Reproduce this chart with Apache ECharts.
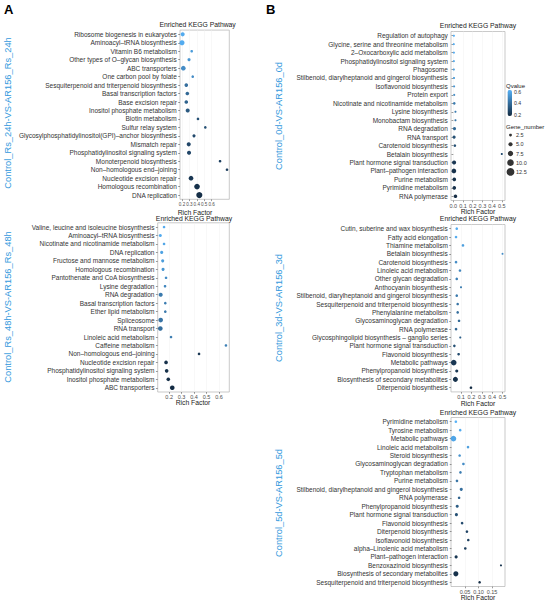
<!DOCTYPE html>
<html>
<head>
<meta charset="utf-8">
<title>Enriched KEGG Pathway</title>
<script src="https://cdn.jsdelivr.net/npm/echarts@6/dist/echarts.min.js"></script>
<style>body{margin:0;background:#fff}#main{width:550px;height:604px}</style>
</head>
<body>
<div id="main"></div>
<script>
// A top: Control_Rs_24h-VS-AR156_Rs_24h
var rs24Terms = ['Ribosome biogenesis in eukaryotes', 'Aminoacyl–tRNA biosynthesis', 'Vitamin B6 metabolism',
    'Other types of O–glycan biosynthesis', 'ABC transporters', 'One carbon pool by folate',
    'Sesquiterpenoid and triterpenoid biosynthesis', 'Basal transcription factors', 'Base excision repair',
    'Inositol phosphate metabolism', 'Biotin metabolism', 'Sulfur relay system',
    'Glycosylphosphatidylinositol(GPI)–anchor biosynthesis', 'Mismatch repair', 'Phosphatidylinositol signaling system',
    'Monoterpenoid biosynthesis', 'Non–homologous end–joining', 'Nucleotide excision repair',
    'Homologous recombination', 'DNA replication'];
var rs24Rich = [0.209, 0.200, 0.331, 0.295, 0.218, 0.345, 0.258, 0.272, 0.258, 0.277,
    0.416, 0.515, 0.362, 0.291, 0.295, 0.714, 0.808, 0.322, 0.403, 0.434];
var rs24Qvalue = [0.60, 0.60, 0.55, 0.53, 0.50, 0.50, 0.40, 0.38, 0.36, 0.33,
    0.30, 0.30, 0.28, 0.27, 0.27, 0.25, 0.24, 0.22, 0.20, 0.19];
var rs24Genes = [5, 7, 2, 3, 6, 2, 4, 4, 4, 5, 2, 2, 3, 5, 5, 2, 2, 6, 8, 9];
var rs24Ticks = [0.2, 0.3, 0.4, 0.5, 0.6];

// A bottom: Control_Rs_48h-VS-AR156_Rs_48h
var rs48Terms = ['Valine, leucine and isoleucine biosynthesis', 'Aminoacyl–tRNA biosynthesis',
    'Nicotinate and nicotinamide metabolism', 'DNA replication', 'Fructose and mannose metabolism',
    'Homologous recombination', 'Pantothenate and CoA biosynthesis', 'Lysine degradation', 'RNA degradation',
    'Basal transcription factors', 'Ether lipid metabolism', 'Spliceosome', 'RNA transport',
    'Linoleic acid metabolism', 'Caffeine metabolism', 'Non–homologous end–joining', 'Nucleotide excision repair',
    'Phosphatidylinositol signaling system', 'Inositol phosphate metabolism', 'ABC transporters'];
var rs48Rich = [0.159, 0.129, 0.159, 0.140, 0.148, 0.151, 0.175, 0.167, 0.132, 0.169,
    0.169, 0.132, 0.129, 0.215, 0.656, 0.440, 0.175, 0.180, 0.193, 0.225];
var rs48Qvalue = [0.60, 0.60, 0.58, 0.57, 0.55, 0.53, 0.50, 0.48, 0.44, 0.45,
    0.44, 0.42, 0.40, 0.45, 0.46, 0.22, 0.20, 0.20, 0.19, 0.18];
var rs48Genes = [2, 3, 2, 3, 3, 3, 2, 2, 5, 2, 2, 6, 6, 2, 2, 2, 4, 4, 4, 6];
var rs48Ticks = [0.1, 0.2, 0.3, 0.4, 0.5, 0.6];

// B top: Control_0d-VS-AR156_0d
var d0Terms = ['Regulation of autophagy', 'Glycine, serine and threonine metabolism', '2–Oxocarboxylic acid metabolism',
    'Phosphatidylinositol signaling system', 'Phagosome', 'Stilbenoid, diarylheptanoid and gingerol biosynthesis',
    'Isoflavonoid biosynthesis', 'Protein export', 'Nicotinate and nicotinamide metabolism', 'Lysine biosynthesis',
    'Monobactam biosynthesis', 'RNA degradation', 'RNA transport', 'Carotenoid biosynthesis', 'Betalain biosynthesis',
    'Plant hormone signal transduction', 'Plant–pathogen interaction', 'Purine metabolism', 'Pyrimidine metabolism',
    'RNA polymerase'];
var d0Rich = [0.006, 0.005, 0.006, 0.006, 0.005, 0.007, 0.008, 0.009, 0.010, 0.022,
    0.022, 0.012, 0.008, 0.016, 0.500, 0.008, 0.006, 0.010, 0.010, 0.022];
var d0Qvalue = [0.62, 0.60, 0.60, 0.58, 0.56, 0.55, 0.53, 0.50, 0.45, 0.45,
    0.43, 0.38, 0.30, 0.30, 0.28, 0.22, 0.20, 0.20, 0.20, 0.18];
var d0Genes = [1, 1, 1, 1, 1, 1, 1, 1, 2, 1, 1, 3, 3, 2, 1, 5, 6, 4, 4, 4];
var d0Ticks = [0, 0.1, 0.2, 0.3, 0.4, 0.5];

// B middle: Control_3d-VS-AR156_3d
var d3Terms = ['Cutin, suberine and wax biosynthesis', 'Fatty acid elongation', 'Thiamine metabolism',
    'Betalain biosynthesis', 'Carotenoid biosynthesis', 'Linoleic acid metabolism', 'Other glycan degradation',
    'Anthocyanin biosynthesis', 'Stilbenoid, diarylheptanoid and gingerol biosynthesis',
    'Sesquiterpenoid and triterpenoid biosynthesis', 'Phenylalanine metabolism', 'Glycosaminoglycan degradation',
    'RNA polymerase', 'Glycosphingolipid biosynthesis – ganglio series', 'Plant hormone signal transduction',
    'Flavonoid biosynthesis', 'Metabolic pathways', 'Phenylpropanoid biosynthesis',
    'Biosynthesis of secondary metabolites', 'Diterpenoid biosynthesis'];
var d3Rich = [0.059, 0.052, 0.119, 0.500, 0.052, 0.090, 0.059, 0.100, 0.059, 0.068,
    0.068, 0.081, 0.052, 0.093, 0.036, 0.077, 0.030, 0.059, 0.046, 0.196];
var d3Qvalue = [0.60, 0.60, 0.56, 0.50, 0.50, 0.48, 0.46, 0.45, 0.44, 0.42,
    0.40, 0.38, 0.37, 0.35, 0.30, 0.28, 0.22, 0.22, 0.20, 0.18];
var d3Genes = [2, 2, 2, 1, 2, 2, 2, 1, 2, 2, 2, 2, 2, 1, 2, 2, 8, 3, 7, 2];
var d3Ticks = [0.1, 0.2, 0.3, 0.4, 0.5];

// B bottom: Control_5d-VS-AR156_5d
var d5Terms = ['Pyrimidine metabolism', 'Tyrosine metabolism', 'Metabolic pathways', 'Linoleic acid metabolism',
    'Steroid biosynthesis', 'Glycosaminoglycan degradation', 'Tryptophan metabolism', 'Purine metabolism',
    'Stilbenoid, diarylheptanoid and gingerol biosynthesis', 'RNA polymerase', 'Phenylpropanoid biosynthesis',
    'Plant hormone signal transduction', 'Flavonoid biosynthesis', 'Diterpenoid biosynthesis',
    'Isoflavonoid biosynthesis', 'alpha–Linolenic acid metabolism', 'Plant–pathogen interaction',
    'Benzoxazinoid biosynthesis', 'Biosynthesis of secondary metabolites',
    'Sesquiterpenoid and triterpenoid biosynthesis'];
var d5Rich = [0.016, 0.032, 0.007, 0.061, 0.030, 0.044, 0.033, 0.020, 0.036, 0.028,
    0.021, 0.018, 0.039, 0.057, 0.062, 0.051, 0.017, 0.183, 0.016, 0.104];
var d5Qvalue = [0.62, 0.60, 0.58, 0.56, 0.52, 0.50, 0.45, 0.42, 0.40, 0.36,
    0.34, 0.30, 0.28, 0.26, 0.25, 0.24, 0.22, 0.21, 0.20, 0.18];
var d5Genes = [2, 2, 8, 2, 2, 2, 2, 2, 3, 2, 3, 3, 2, 2, 2, 2, 3, 1, 7, 2];
var d5Ticks = [0.05, 0.10, 0.15];

// legends
var qvalueTicks = [0.6, 0.4, 0.2];
var geneLegend = [2.5, 5, 7.5, 10, 12.5];

var FONT = '"Liberation Sans", Arial, sans-serif';
var LOW = '#132B43', HIGH = '#56B1F7';

function dotSize(g) { return 1.6 + 0.5 * g; }

var panels = [
    { name: 'Control_Rs_24h-VS-AR156_Rs_24h', terms: rs24Terms, rich: rs24Rich, q: rs24Qvalue, genes: rs24Genes,
      ticks: rs24Ticks, dec: 1, min: 0.173, max: 0.839, tickFont: 4.6,
      box: [180, 30.1, 49.3, 169.2], titleX: 197.6, titleY: 24.5, rfX: 195, rfY: 212, sideX: 7.5, sideY: 113 },
    { name: 'Control_Rs_48h-VS-AR156_Rs_48h', terms: rs48Terms, rich: rs48Rich, q: rs48Qvalue, genes: rs48Genes,
      ticks: rs48Ticks, dec: 1, min: 0.108, max: 0.683, tickFont: 5.5,
      box: [157.7, 222.8, 71.6, 169.2], titleX: 194, titleY: 218, rfX: 193, rfY: 402.7, sideX: 7.5, sideY: 307 },
    { name: 'Control_0d-VS-AR156_0d', terms: d0Terms, rich: d0Rich, q: d0Qvalue, genes: d0Genes,
      ticks: d0Ticks, dec: 1, min: -0.024, max: 0.533, tickFont: 5.5,
      box: [451, 31.5, 54, 169], titleX: 478, titleY: 25, rfX: 478, rfY: 211, sideX: 278.5, sideY: 116 },
    { name: 'Control_3d-VS-AR156_3d', terms: d3Terms, rich: d3Rich, q: d3Qvalue, genes: d3Genes,
      ticks: d3Ticks, dec: 1, min: 0.0036, max: 0.524, tickFont: 5.5,
      box: [451, 224.5, 54, 167.4], titleX: 478, titleY: 218.3, rfX: 478, rfY: 403.3, sideX: 278.5, sideY: 308 },
    { name: 'Control_5d-VS-AR156_5d', terms: d5Terms, rich: d5Rich, q: d5Qvalue, genes: d5Genes,
      ticks: d5Ticks, dec: 2, min: -0.002, max: 0.198, tickFont: 5.5,
      box: [451, 417.5, 54, 169], titleX: 478, titleY: 412.3, rfX: 478, rfY: 597.7, sideX: 278.5, sideY: 503 }
];

var grids = [], xAxes = [], yAxes = [], series = [], texts = [];

panels.forEach(function (p, i) {
    grids.push({
        left: p.box[0], top: p.box[1], width: p.box[2], height: p.box[3],
        show: true, borderColor: '#b3b3b3', borderWidth: 0.7, backgroundColor: '#fff',
        outerBoundsMode: 'none'
    });
    xAxes.push({
        gridIndex: i, type: 'value', min: p.min, max: p.max,
        axisLine: { show: false },
        axisTick: { show: true, length: 1.8, customValues: p.ticks, lineStyle: { color: '#555', width: 0.6 } },
        axisLabel: {
            customValues: p.ticks, fontSize: p.tickFont, color: '#4d4d4d', fontFamily: FONT, margin: 2.2,
            formatter: (function (dec) { return function (v) { return v.toFixed(dec); }; })(p.dec)
        },
        splitLine: { show: true, lineStyle: { color: '#f0f0f0', width: 0.5 } }
    });
    yAxes.push({
        gridIndex: i, type: 'category', data: p.terms, inverse: true,
        axisLine: { show: false },
        axisTick: { show: true, length: 1.8, alignWithLabel: true, interval: 0, lineStyle: { color: '#555', width: 0.6 } },
        axisLabel: { fontSize: 6.5, color: '#333', fontFamily: FONT, margin: 3.2, interval: 0 },
        splitLine: { show: false }
    });
    series.push({
        type: 'scatter', xAxisIndex: i, yAxisIndex: i,
        data: p.terms.map(function (t, j) { return [p.rich[j], j, p.q[j], p.genes[j]]; }),
        encode: { x: 0, y: 1 },
        symbolSize: function (v) { return dotSize(v[3]); },
        itemStyle: { opacity: 1 },
        silent: true
    });
    texts.push(
        { type: 'text', x: p.titleX, y: p.titleY, style: { text: 'Enriched KEGG Pathway', font: '6.8px ' + FONT, fill: '#1a1a1a', textAlign: 'center', textVerticalAlign: 'middle' } },
        { type: 'text', x: p.rfX, y: p.rfY, style: { text: 'Rich Factor', font: '6.8px ' + FONT, fill: '#1a1a1a', textAlign: 'center', textVerticalAlign: 'middle' } },
        { type: 'text', x: p.sideX, y: p.sideY, rotation: Math.PI / 2, style: { text: p.name, font: '9.3px ' + FONT, fill: '#3399dd', textAlign: 'center', textVerticalAlign: 'middle' } }
    );
});

// Gene_number size legend drawn as a tiny scatter grid
grids.push({ left: 506.5, top: 130.5, width: 8, height: 46, show: false, outerBoundsMode: 'none' });
xAxes.push({ gridIndex: 5, type: 'value', min: -1, max: 1, show: false });
yAxes.push({
    gridIndex: 5, type: 'category', inverse: true, position: 'right',
    data: geneLegend.map(function (g) { return g.toFixed(1); }),
    axisLine: { show: false }, axisTick: { show: false },
    axisLabel: { fontSize: 5.5, color: '#333', fontFamily: FONT, margin: 1.5 }
});
series.push({
    type: 'scatter', xAxisIndex: 5, yAxisIndex: 5, silent: true,
    data: geneLegend.map(function (g, j) { return [0, j, g]; }),
    symbolSize: function (v) { return dotSize(v[2]); },
    itemStyle: { color: '#000' }
});

texts.push(
    { type: 'text', x: 4, y: 9, style: { text: 'A', font: 'bold 13px ' + FONT, fill: '#000', textVerticalAlign: 'middle' } },
    { type: 'text', x: 266, y: 9, style: { text: 'B', font: 'bold 13px ' + FONT, fill: '#000', textVerticalAlign: 'middle' } },
    { type: 'text', x: 506, y: 86.3, style: { text: 'Qvalue', font: '6px ' + FONT, fill: '#1a1a1a', textVerticalAlign: 'middle' } },
    { type: 'text', x: 506, y: 126.7, style: { text: 'Gene_number', font: '6px ' + FONT, fill: '#1a1a1a', textVerticalAlign: 'middle' } }
);
// colourbar labels placed on the same 0.18-0.62 scale as the bar
var qMin = 0.18, qMax = 0.62, barTop = 90, barH = 26;
qvalueTicks.forEach(function (q) {
    texts.push({ type: 'text', x: 514, y: barTop + (qMax - q) / (qMax - qMin) * barH + 0.4,
        style: { text: q.toFixed(1), font: '5.2px ' + FONT, fill: '#333', textVerticalAlign: 'middle' } });
});

var myChart = echarts.init(document.getElementById('main'), null, { renderer: 'svg' });
myChart.setOption({
    animation: false,
    backgroundColor: '#fff',
    grid: grids,
    xAxis: xAxes,
    yAxis: yAxes,
    visualMap: {
        type: 'continuous', seriesIndex: [0, 1, 2, 3, 4], dimension: 2,
        min: qMin, max: qMax, inRange: { color: [LOW, HIGH] },
        left: 507.5, top: barTop, itemWidth: 4.5, itemHeight: barH, padding: 0,
        calculable: false, hoverLink: false, text: null, textStyle: { fontSize: 0 }
    },
    series: series,
    graphic: texts
});
</script>
</body>
</html>
